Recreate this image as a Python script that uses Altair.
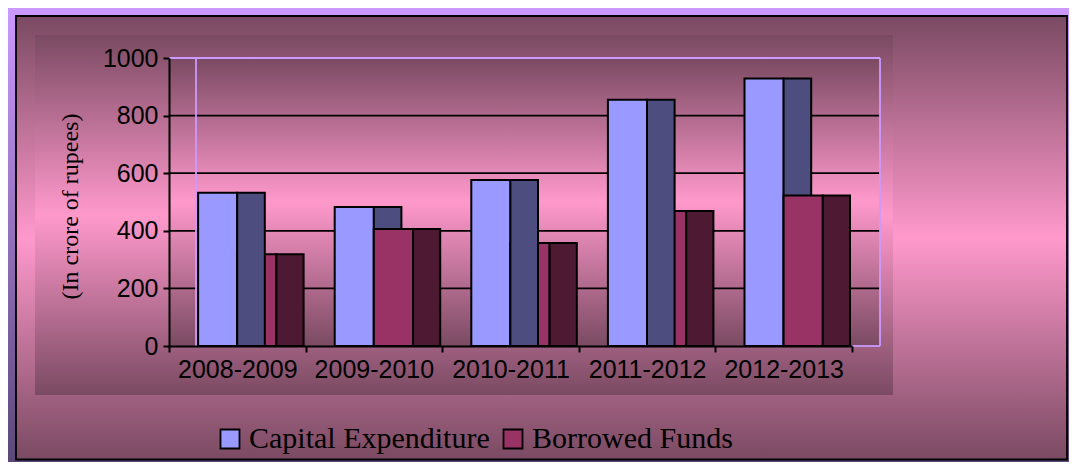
import altair as alt
import pandas as pd

# ---- data ----
years = ["2008-2009", "2009-2010", "2010-2011", "2011-2012", "2012-2013"]
capital = [532, 483, 576, 855, 929]
borrowed = [319, 406, 358, 469, 523]
series = ["Capital Expenditure", "Borrowed Funds"]
y_ticks = [0, 200, 400, 600, 800, 1000]
grid_values = [200, 400, 600, 800]
# years where the borrowed bar's front face is drawn over the capital bar's side face
front_on_top = ["2009-2010", "2012-2013"]

rows = []
for i, yr in enumerate(years):
    rows.append({"year": yr, "series": series[0], "value": capital[i], "top": yr in front_on_top})
    rows.append({"year": yr, "series": series[1], "value": borrowed[i], "top": yr in front_on_top})
df = pd.DataFrame(rows)
grid_df = pd.DataFrame({"value": grid_values})

W, H = 683, 288
WALL_R = 711
DARK = "#7a4a62"
PINK = "#ff99cc"
LAV = "#cc99ff"


def grad(c0, c1, c2=None):
    stops = [alt.GradientStop(offset=0, color=c0)]
    if c2 is None:
        stops.append(alt.GradientStop(offset=1, color=c1))
    else:
        stops.append(alt.GradientStop(offset=0.5, color=c1))
        stops.append(alt.GradientStop(offset=1, color=c2))
    return alt.LinearGradient(gradient="linear", stops=stops, x1=0, x2=0, y1=0, y2=1)


one = alt.Data(values=[{}])


def panel(x, x2, y, y2, fill, **kw):
    return alt.Chart(one).mark_rect(fill=fill, **kw).encode(
        x=alt.value(x), x2=alt.value(x2), y=alt.value(y), y2=alt.value(y2)
    )


frame = panel(-161, 900, -50, 404, grad(LAV, "#5a4878"))
outer = panel(-153, 898, -42, 401.5, grad(DARK, PINK, DARK), stroke="black", strokeWidth=1.8)
inner = panel(-134, 724, -23, 337, grad(DARK, PINK, DARK))
wall = panel(0, WALL_R, 0, H, grad(DARK, PINK, DARK))

x_enc = alt.X(
    "year:N",
    scale=alt.Scale(domain=years, paddingInner=0, paddingOuter=0),
    axis=alt.Axis(
        title=None, labelAngle=0, labelFont="Liberation Sans", labelFontSize=25,
        labelColor="black", tickBand="extent", tickSize=6, tickColor="black",
        tickWidth=2, domainColor="black", domainWidth=2, labelPadding=5,
        zindex=1,
    ),
)
y_enc = alt.Y(
    "value:Q",
    scale=alt.Scale(domain=[0, 1000], nice=False),
    axis=alt.Axis(
        values=y_ticks, format="d", grid=False, title="(In crore of rupees)",
        titleFont="Liberation Serif", titleFontSize=24, titleFontWeight="normal",
        titleColor="black", titleX=-99, titleY=148, titleAngle=-90,
        titleAlign="center", titleBaseline="middle",
        labelFont="Liberation Sans", labelFontSize=25, labelColor="black",
        labelPadding=5, tickSize=6, tickColor="black", tickWidth=2,
        domainColor="black", domainWidth=2, zindex=1,
    ),
)
color_enc = alt.Color(
    "series:N",
    scale=alt.Scale(domain=series, range=["#9999ff", "#993366"]),
    legend=alt.Legend(
        title=None, orient="none", direction="horizontal", legendX=46, legendY=366,
        symbolType="square", symbolSize=361, symbolStrokeColor="black",
        symbolStrokeWidth=1.8, labelFont="Liberation Serif", labelFontSize=30,
        labelColor="black", labelOffset=4, columnPadding=8, labelLimit=400,
    ),
)

grid = alt.Chart(grid_df).mark_rule(color="black", strokeWidth=1.8).encode(
    y=y_enc, x=alt.value(0), x2=alt.value(WALL_R)
)


def vline(x, y, y2):
    return alt.Chart(one).mark_rule(color=LAV, strokeWidth=1.8).encode(
        x=alt.value(x), y=alt.value(y), y2=alt.value(y2)
    )


def hline(x, x2, y):
    return alt.Chart(one).mark_rule(color=LAV, strokeWidth=1.8).encode(
        x=alt.value(x), x2=alt.value(x2), y=alt.value(y)
    )


wall_lines = [hline(0, WALL_R, 0), vline(27, 0, H), vline(WALL_R, 0, H), hline(W, WALL_R, H)]

base = alt.Chart(df)
cap = alt.datum.series == series[0]
bor = alt.datum.series == series[1]
bs = dict(stroke="black", strokeWidth=2)

cap_front = base.transform_filter(cap).mark_bar(width=39.2, xOffset=-19.6, **bs).encode(
    x=x_enc, y=y_enc, color=color_enc)
bor_front_under = base.transform_filter(bor & ~alt.datum.top).mark_bar(
    width=39.2, xOffset=19.5, **bs).encode(x=x_enc, y=y_enc, color=color_enc)
cap_side = base.transform_filter(cap).mark_bar(width=27.6, xOffset=13.7, color="#4d4d80", **bs).encode(
    x=x_enc, y=y_enc)
bor_front_over = base.transform_filter(bor & alt.datum.top).mark_bar(
    width=39.2, xOffset=19.5, **bs).encode(x=x_enc, y=y_enc, color=color_enc)
bor_side = base.transform_filter(bor).mark_bar(width=27.2, xOffset=52.7, color="#4d1933", **bs).encode(
    x=x_enc, y=y_enc)

chart = alt.layer(
    frame, outer, inner, wall, grid, *wall_lines,
    cap_front, bor_front_under, cap_side, bor_front_over, bor_side,
).properties(
    width=W, height=H,
    padding={"left": 161, "top": 50, "right": 217, "bottom": 116},
    autosize=alt.AutoSizeParams(type="none"),
    background="white",
).configure_view(stroke=None)

chart.save("out.html", embed_options={"renderer": "svg", "actions": False})
